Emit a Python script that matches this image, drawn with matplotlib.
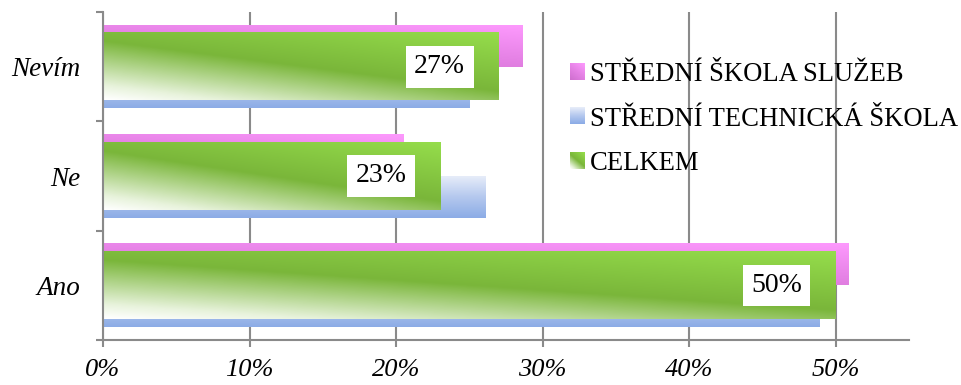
import numpy as np
import matplotlib
matplotlib.use("Agg")
import matplotlib.pyplot as plt
from matplotlib.colors import LinearSegmentedColormap
from matplotlib.legend_handler import HandlerBase
from matplotlib.image import BboxImage
from matplotlib.transforms import Bbox, TransformedBbox

categories = ["Ano", "Ne", "Nevím"]
series_names = ["STŘEDNÍ ŠKOLA SLUŽEB", "STŘEDNÍ TECHNICKÁ ŠKOLA", "CELKEM"]
sluzeb = [50.9, 20.5, 28.6]
technicka = [48.9, 26.1, 25.0]
celkem = [50, 23, 27]
x_ticks = [0, 10, 20, 30, 40, 50]

plt.rcParams["font.family"] = ["Liberation Serif", "DejaVu Serif"]

GRAY = "#8a8a8a"

pink_cmap = LinearSegmentedColormap.from_list("pink", ["#cf6fcf", "#e582e5", "#fd99fd"])
blue_cmap = LinearSegmentedColormap.from_list("blue", ["#8cace6", "#b4c8ee", "#e6ecf9"])
green_cmap = LinearSegmentedColormap.from_list(
    "green", [(0, "#ffffff"), (0.12, "#e8f3dc"), (0.5, "#7ab63a"), (1.0, "#95dd4b")])


def pink_grad(fx, fy):
    return pink_cmap((0.6 * fy + 0.4 * fx))


def blue_grad(fx, fy):
    return blue_cmap(fy)


def green_grad(fx, fy):
    return green_cmap((fy + 0.75 * fx) / 1.75)


def gradient_image(func, nx=200, ny=60):
    fx, fy = np.meshgrid(np.linspace(0, 1, nx), np.linspace(0, 1, ny))
    return func(fx, fy)


def fill_bars(ax, bars, func, zorder):
    img = gradient_image(func)
    for b in bars:
        x, y = b.get_x(), b.get_y()
        w, h = b.get_width(), b.get_height()
        ax.imshow(img, extent=[x, x + w, y, y + h], origin="lower",
                  aspect="auto", interpolation="bilinear", zorder=zorder)
        b.set_visible(False)


class GradientHandler(HandlerBase):
    def __init__(self, func):
        super().__init__()
        self.func = func

    def create_artists(self, legend, orig_handle, xdescent, ydescent,
                       width, height, fontsize, trans):
        bb = Bbox.from_bounds(-xdescent, -ydescent, width, height)
        img = BboxImage(TransformedBbox(bb, trans), origin="lower",
                        interpolation="bilinear")
        img.set_data(gradient_image(self.func, 20, 20))
        return [img]


fig = plt.figure(figsize=(9.61, 3.85), dpi=100)
ax = fig.add_axes([103 / 961, 45 / 385, 806 / 961, 328 / 385])

y = np.arange(len(categories))
b_pink = ax.barh(y + 0.19, sluzeb, height=0.38, color="#e58ae5")
b_blue = ax.barh(y - 0.19, technicka, height=0.38, color="#a9c0ec")
b_green = ax.barh(y, celkem, height=0.615, color="#7ab63a")

fill_bars(ax, b_pink, pink_grad, 2)
fill_bars(ax, b_blue, blue_grad, 2)
fill_bars(ax, b_green, green_grad, 3)

for yi, v in zip(y, celkem):
    ax.annotate(f"{v}%", xy=(v, yi), xytext=(-59, 0), textcoords="offset pixels",
                ha="center", va="center", fontsize=20, zorder=5,
                bbox=dict(boxstyle="square,pad=0.3", fc="white", ec="none"))

ax.set_xlim(0, 55)
ax.set_ylim(-0.5, 2.5)

ax.set_xticks(x_ticks)
ax.set_xticklabels([f"{t}%" for t in x_ticks], fontstyle="italic", fontsize=19)
ax.set_yticks([-0.5, 0.5, 1.5, 2.5])
ax.set_yticklabels([])
ax.set_yticks(y, minor=True)
ax.set_yticklabels(categories, minor=True, fontstyle="italic", fontsize=19.5)

ax.tick_params(axis="x", which="major", length=5, width=1.5, color=GRAY, pad=9)
ax.tick_params(axis="y", which="major", length=5, width=1.5, color=GRAY)
ax.tick_params(axis="y", which="minor", length=0, pad=16)

ax.grid(axis="x", color=GRAY, linewidth=1.5, zorder=0)
ax.set_axisbelow(True)
for side in ["top", "right"]:
    ax.spines[side].set_visible(False)
for side in ["left", "bottom"]:
    ax.spines[side].set_color(GRAY)
    ax.spines[side].set_linewidth(1.5)
    ax.spines[side].set_zorder(4)

handles = [b_pink, b_blue, b_green]
ax.legend(handles, series_names,
          handler_map={b_pink: GradientHandler(pink_grad),
                       b_blue: GradientHandler(blue_grad),
                       b_green: GradientHandler(green_grad)},
          loc="upper left", bbox_to_anchor=(570 / 961, 1 - 62 / 385),
          bbox_transform=fig.transFigure, frameon=False, fontsize=19.2,
          handlelength=0.56, handleheight=0.56, handletextpad=0.2,
          labelspacing=0.74, borderpad=0, borderaxespad=0)

fig.savefig("out.png", dpi=100)
